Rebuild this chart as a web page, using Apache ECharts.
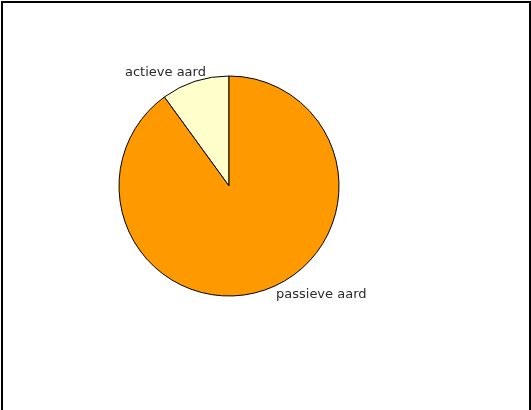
<!DOCTYPE html>
<html><head><meta charset="utf-8">
<script src="https://cdn.jsdelivr.net/npm/echarts@6/dist/echarts.min.js"></script>
<style>html,body{margin:0;padding:0;background:#fff}#c{width:531px;height:410px}</style>
</head><body><div id="c"></div>
<script>
const categories = ['actieve aard', 'passieve aard'];
const values = [10, 90];
const colors = ['#FFFFCC', '#FF9900'];
const labelPos = [[125, 73], [276, 295]];

const chart = echarts.init(document.getElementById('c'), null, {renderer: 'canvas'});
chart.setOption({
  animation: false,
  backgroundColor: '#fff',
  graphic: [{
    type: 'rect', shape: {x: 2, y: 2, width: 528, height: 430},
    style: {fill: 'none', stroke: '#000', lineWidth: 2}
  }],
  series: [{
    type: 'pie',
    center: [229, 186],
    radius: 110,
    startAngle: 90,
    clockwise: false,
    data: categories.map((n, i) => ({name: n, value: values[i], itemStyle: {color: colors[i]}})),
    itemStyle: {borderColor: '#000', borderWidth: 1},
    label: {show: true, position: 'outside', formatter: '{b}', color: '#2a2a2a', fontFamily: 'DejaVu Sans', fontSize: 13},
    labelLine: {show: false},
    labelLayout: function (p) {
      const pos = labelPos[p.dataIndex];
      return {x: pos[0], y: pos[1], align: 'left', verticalAlign: 'middle', fontSize: 13};
    },
    emphasis: {disabled: true}
  }]
});
</script></body></html>
